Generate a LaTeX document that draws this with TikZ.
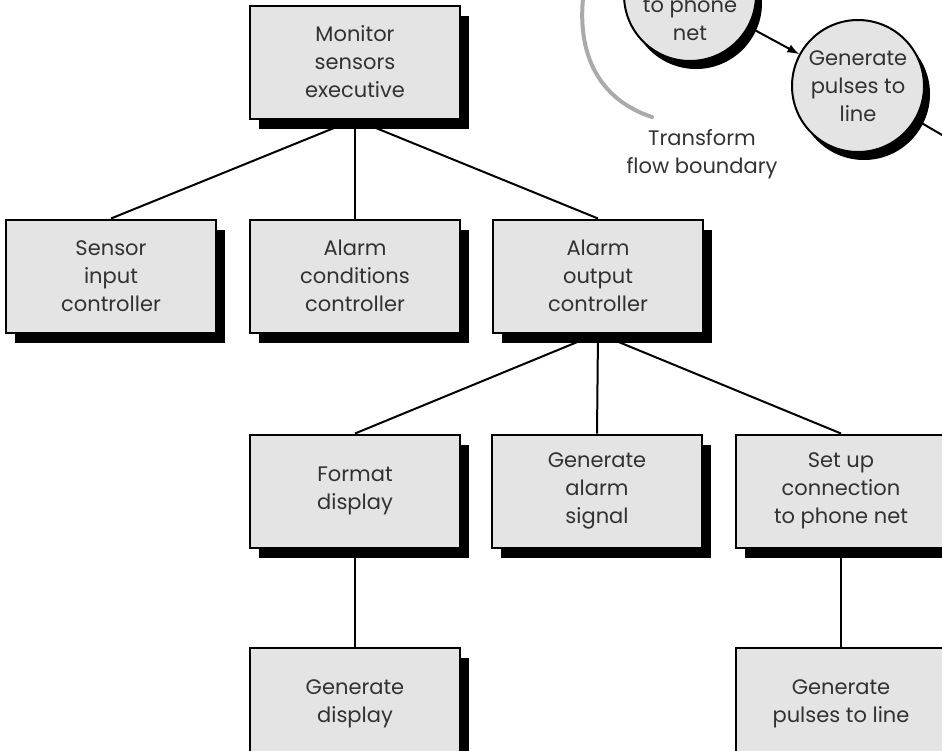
\documentclass[tikz,border=0pt]{standalone}
\usepackage{fontspec}
\setmainfont{Poppins}
\usepackage{tikz}
\usetikzlibrary{positioning,shadows}
\definecolor{boxgray}{RGB}{228,228,228}
\definecolor{txtgray}{RGB}{50,50,50}
\definecolor{arcgray}{RGB}{170,170,170}
\tikzset{
  modtext/.style={font=\fontsize{10.5}{14}\selectfont, text=txtgray},
  module/.style={modtext, draw=black, line width=1pt, fill=boxgray,
    minimum width=105pt, minimum height=56.5pt, align=center,
    drop shadow={shadow xshift=4.5pt, shadow yshift=-5pt, fill=black, opacity=1}},
  bubble/.style={modtext, circle, draw=black, line width=1pt, fill=boxgray,
    minimum size=66pt, inner sep=0pt, align=center,
    drop shadow={shadow xshift=3pt, shadow yshift=-4pt, fill=black, opacity=1}},
  link/.style={line width=1pt},
  boundary/.style={draw=arcgray, line width=2pt, line cap=round}
}
\begin{document}
\begin{tikzpicture}[x=0.5pt,y=-0.5pt]
  \useasboundingbox (0,0) rectangle (942,750);
  \clip (0,0) rectangle (942,750);
  % structure chart
  \node(mon)[module] at (355,62) {Monitor\\sensors\\executive};
  \node(acond)[module,below=49.5pt of mon] {Alarm\\conditions\\controller};
  \node(sens)[module,left=16pt of acond] {Sensor\\input\\controller};
  \node(aout)[module,right=15.5pt of acond] {Alarm\\output\\controller};
  \node(fmt)[module,below=50pt of acond] {Format\\display};
  \node(galarm)[module,right=15pt of fmt] {Generate\\alarm\\signal};
  \node(setup)[module,right=16pt of galarm] {Set up\\connection\\to phone net};
  \node(gdisp)[module,below=49pt of fmt] {Generate\\display};
  \node(gpulse)[module,below=49pt of setup] {Generate\\pulses to line};
  \draw[link] (mon.south) -- (sens.north);
  \draw[link] (mon.south) -- (acond.north);
  \draw[link] (mon.south) -- (aout.north);
  \draw[link] (aout.south) -- (fmt.north);
  \draw[link] (aout.south) -- (galarm.north);
  \draw[link] (aout.south) -- (setup.north);
  \draw[link] (fmt.south) -- (gdisp.north);
  \draw[link] (setup.south) -- (gpulse.north);
  % flow graph corner
  \node(phone)[bubble,label={[modtext,align=center,yshift=-12pt]center:{to phone\\net}}] at (690,-5) {};
  \node(gen)[bubble] at (858,86) {Generate\\pulses to\\line};
  \coordinate(pout) at (985,160);
  \draw[link,-latex] (phone) -- (gen);
  \draw[link,-latex] (gen) -- (pout);
  \draw[boundary] (584,-10) .. controls (575,55) and (600,100) .. (652,117);
  \node(tfb)[modtext,align=center] at (702,154) {Transform\\flow boundary};
\end{tikzpicture}
\end{document}
